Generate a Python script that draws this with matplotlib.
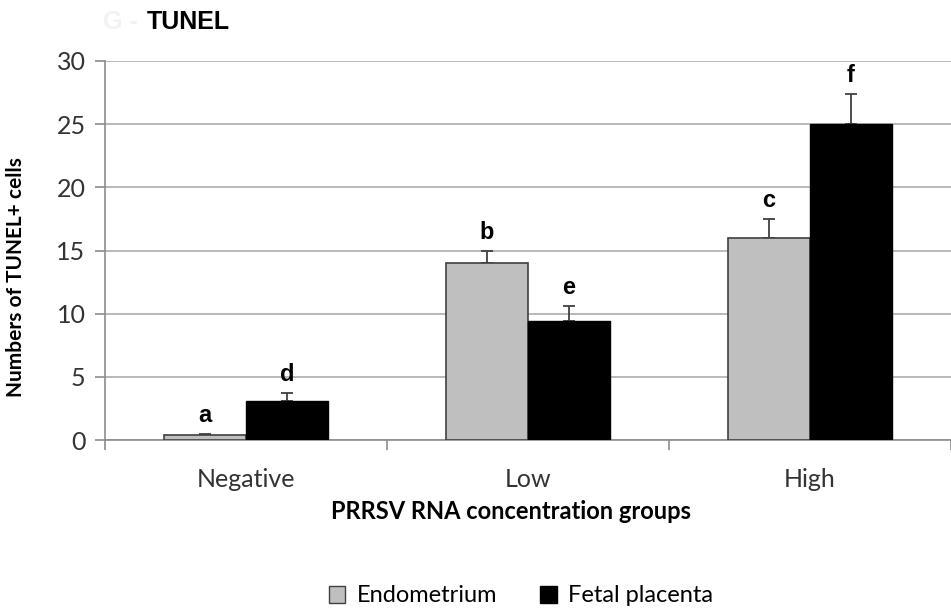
import numpy as np
import matplotlib.pyplot as plt
from matplotlib.patches import Patch

# data
groups = ["Negative", "Low", "High"]
endometrium = [0.4, 14.0, 16.0]
endometrium_err = [0.08, 1.0, 1.5]
placenta = [3.1, 9.4, 25.0]
placenta_err = [0.6, 1.2, 2.4]
endometrium_letters = ["a", "b", "c"]
placenta_letters = ["d", "e", "f"]

W, H = 951, 613
fig = plt.figure(figsize=(W / 100, H / 100), dpi=100)
# axes: x from 105px to right edge, y from 440px (0) to 61px (30)
ax = fig.add_axes([105 / W, 1 - 440 / H, 1 - 105 / W, (440 - 61) / H])

font = ["Lato", "DejaVu Sans"]
grey = "#bfbfbf"
axis_col = "#8c8c8c"

x = np.arange(len(groups))
w = 0.29
ekw = dict(ecolor="#404040", elinewidth=1.3, capsize=4.5, capthick=1.3)

ax.bar(x - w / 2, endometrium, w, color=grey, edgecolor="#404040",
       linewidth=1.2, zorder=3)
ax.bar(x + w / 2, placenta, w, color="black", edgecolor="black",
       linewidth=1.0, zorder=3)
ax.errorbar(x - w / 2, endometrium, yerr=[np.zeros(3), endometrium_err],
            fmt="none", zorder=2, **ekw)
ax.errorbar(x + w / 2, placenta, yerr=[np.zeros(3), placenta_err],
            fmt="none", zorder=2, **ekw)

for xi, v, e, lab in zip(x - w / 2, endometrium, endometrium_err, endometrium_letters):
    ax.annotate(lab, (xi, v + e), xytext=(0, 5), textcoords="offset points",
                ha="center", va="bottom", fontsize=17, fontweight="bold",
                family="Liberation Sans")
for xi, v, e, lab in zip(x + w / 2, placenta, placenta_err, placenta_letters):
    ax.annotate(lab, (xi, v + e), xytext=(0, 5), textcoords="offset points",
                ha="center", va="bottom", fontsize=17, fontweight="bold",
                family="Liberation Sans")

ax.set_ylim(0, 30)
ax.set_xlim(-0.5, -0.5 + (W - 105) / 284.5)
ax.set_yticks(np.arange(0, 31, 5))
ax.yaxis.grid(True, color="#b3b3b3", linewidth=1.3, zorder=0)
ax.set_axisbelow(True)

# category boundary ticks (Excel style), labels at centres
ax.set_xticks(np.arange(-0.5, 3, 1.0))
ax.set_xticklabels([])
ax.set_xticks(x, minor=True)
ax.set_xticklabels(groups, minor=True, fontsize=18, family=font, color="#333333")
ax.tick_params(axis="x", which="minor", length=0, pad=20)
ax.tick_params(axis="x", which="major", length=7, color=axis_col, width=1.2)
ax.tick_params(axis="y", length=7, color=axis_col, width=1.2,
               labelsize=18, labelcolor="#333333", pad=7)
for t in ax.get_yticklabels():
    t.set_family(font)

for s in ["top", "right"]:
    ax.spines[s].set_visible(False)
for s in ["left", "bottom"]:
    ax.spines[s].set_color(axis_col)
    ax.spines[s].set_linewidth(1.2)

ax.set_ylabel("Numbers of TUNEL+ cells", fontsize=15, fontweight="bold",
              family=font)
ax.yaxis.set_label_coords(-(105 - 26) / (W - 105), (440 - 277) / (440 - 61))
ax.set_xlabel("PRRSV RNA concentration groups", fontsize=17, fontweight="bold",
              family=font)
ax.xaxis.set_label_coords((511 - 105) / (W - 105), -(500 - 440) / (440 - 61))

fig.text(103 / W, 1 - 22 / H, "G -", fontsize=18, fontweight="bold",
         family="Liberation Sans", color="#f2f2f2", va="center")
fig.text(147 / W, 1 - 22 / H, "TUNEL", fontsize=18, fontweight="bold",
         family="Liberation Sans", color="black", va="center")

handles = [Patch(facecolor=grey, edgecolor="#404040", label="Endometrium"),
           Patch(facecolor="black", edgecolor="black", label="Fetal placenta")]
fig.legend(handles=handles, loc="center", bbox_to_anchor=(521 / W, 1 - 596 / H),
           ncol=2, frameon=False, prop={"family": font, "size": 17},
           handlelength=0.7, handleheight=0.7, columnspacing=1.8,
           handletextpad=0.5)

fig.savefig("out.png", dpi=100)
